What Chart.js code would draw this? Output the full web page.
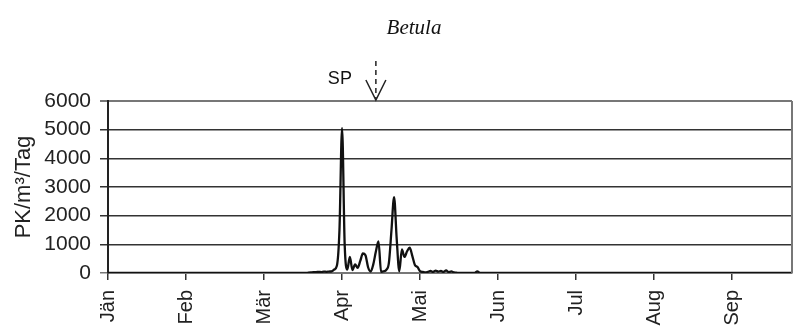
<!DOCTYPE html>
<html>
<head>
<meta charset="utf-8">
<script src="https://cdn.jsdelivr.net/npm/chart.js@4.4.0/dist/chart.umd.min.js"></script>
<style>
  html, body { margin: 0; padding: 0; background: #fff; }
</style>
</head>
<body>
<canvas id="betulaChart" width="795" height="331"></canvas>
<script>
// Betula Pollenflug, Tageswerte (Tag 0 = 1. Jänner)
const days = [
  0,
  75, 76, 77, 78, 79, 80, 81, 82, 83, 84,
  85, 86, 87, 88, 89, 90, 91, 92, 93, 94,
  95, 96, 97, 98, 99, 100, 101, 102, 103, 104,
  105, 106, 107, 108, 109, 110, 111, 112, 113, 114,
  115, 116, 117, 118, 119, 120, 121, 122, 123, 124,
  125, 126, 127, 128, 129, 130, 131, 132, 133, 134,
  135, 141, 142, 143, 144, 263
];
const pollen = [
  0,
  0, 0, 10, 20, 30, 30, 40, 30, 50, 40,
  50, 60, 120, 250, 1500, 5050, 1000, 120, 560, 100,
  300, 180, 420, 680, 620, 200, 50, 300, 750, 1100,
  40, 60, 110, 350, 1500, 2650, 1200, 60, 820, 560,
  760, 880, 600, 280, 210, 60, 40, 20, 40, 70,
  40, 80, 50, 70, 40, 90, 30, 60, 20, 10,
  0, 0, 60, 0, 0, 0
];

// Achse: Monatsmarken (alle 30 Tage)
const monthDays = [0, 30, 60, 90, 120, 150, 180, 210, 240];
const monthLabels = ['Jän', 'Feb', 'Mär', 'Apr', 'Mai', 'Jun', 'Jul', 'Aug', 'Sep'];
const yTicks = [0, 1000, 2000, 3000, 4000, 5000, 6000];

// Saisonbeginn (SP)
const spDay = 103;
const spLabel = 'SP';
const chartTitle = 'Betula';

const points = days.map((d, i) => ({ x: d, y: pollen[i] }));

// Titel, Rahmen rechts und SP-Pfeil
const extras = {
  id: 'extras',
  afterDraw(chart) {
    const { ctx, chartArea } = chart;
    const x = chart.scales.x.getPixelForValue(spDay);
    const top = chartArea.top;
    ctx.save();

    // rechter Rahmen
    ctx.strokeStyle = '#777';
    ctx.lineWidth = 2;
    ctx.beginPath();
    ctx.moveTo(chartArea.right, chartArea.top);
    ctx.lineTo(chartArea.right, chartArea.bottom);
    ctx.stroke();

    // Titel
    ctx.fillStyle = '#111';
    ctx.font = 'italic 21px "Liberation Serif", serif';
    ctx.textAlign = 'center';
    ctx.textBaseline = 'middle';
    ctx.fillText(chartTitle, 414, 28);

    // SP Pfeil (gestrichelt)
    ctx.strokeStyle = '#222';
    ctx.lineWidth = 1.5;
    ctx.setLineDash([5, 4]);
    ctx.beginPath();
    ctx.moveTo(x, top - 40);
    ctx.lineTo(x, top - 2);
    ctx.stroke();
    ctx.setLineDash([]);
    ctx.beginPath();
    ctx.moveTo(x - 10, top - 21);
    ctx.lineTo(x, top - 1);
    ctx.lineTo(x + 10, top - 21);
    ctx.stroke();

    ctx.font = '18px "Liberation Sans", Arial, sans-serif';
    ctx.textAlign = 'center';
    ctx.fillText(spLabel, x - 36, top - 22);
    ctx.restore();
  }
};

const sans = '"Liberation Sans", Arial, sans-serif';

new Chart(document.getElementById('betulaChart').getContext('2d'), {
  type: 'line',
  data: {
    datasets: [
      {
        label: chartTitle,
        data: points,
        borderColor: '#111',
        borderWidth: 2.3,
        pointRadius: 0,
        fill: false,
        cubicInterpolationMode: 'monotone',
      },
    ],
  },
  options: {
    responsive: false,
    animation: false,
    layout: { padding: { top: 101, right: 3, left: 0, bottom: 0 } },
    plugins: {
      legend: { display: false },
      tooltip: { enabled: false },
      title: { display: false },
    },
    scales: {
      x: {
        type: 'linear',
        min: 0,
        max: 263,
        afterBuildTicks: (scale) => {
          scale.ticks = monthDays.map((v) => ({ value: v }));
        },
        afterFit: (scale) => {
          scale.height = 58;
        },
        ticks: {
          autoSkip: false,
          maxRotation: 90,
          minRotation: 90,
          padding: 10,
          color: '#222',
          font: { family: sans, size: 20 },
          callback: (value, index) => monthLabels[index],
        },
        grid: {
          drawOnChartArea: false,
          tickLength: 7,
          color: '#333',
          lineWidth: 1.5,
        },
        border: { color: '#777', width: 2 },
      },
      y: {
        min: 0,
        max: 6000,
        afterBuildTicks: (scale) => {
          scale.ticks = yTicks.map((v) => ({ value: v }));
        },
        afterFit: (scale) => {
          scale.width = 108;
        },
        ticks: {
          padding: 9,
          color: '#222',
          font: { family: sans, size: 21 },
          callback: (value) => String(value),
        },
        grid: {
          tickLength: 8,
          color: (c) => (c.tick && (c.tick.value === 6000 || c.tick.value === 0) ? '#777' : '#333'),
          lineWidth: (c) => (c.tick && c.tick.value === 6000 ? 2 : 1.5),
        },
        border: { color: '#222', width: 2 },
        title: {
          display: true,
          text: 'PK/m³/Tag',
          color: '#222',
          font: { family: sans, size: 22 },
          padding: { top: 11, bottom: 0 },
        },
      },
    },
  },
  plugins: [extras],
});
</script>
</body>
</html>
